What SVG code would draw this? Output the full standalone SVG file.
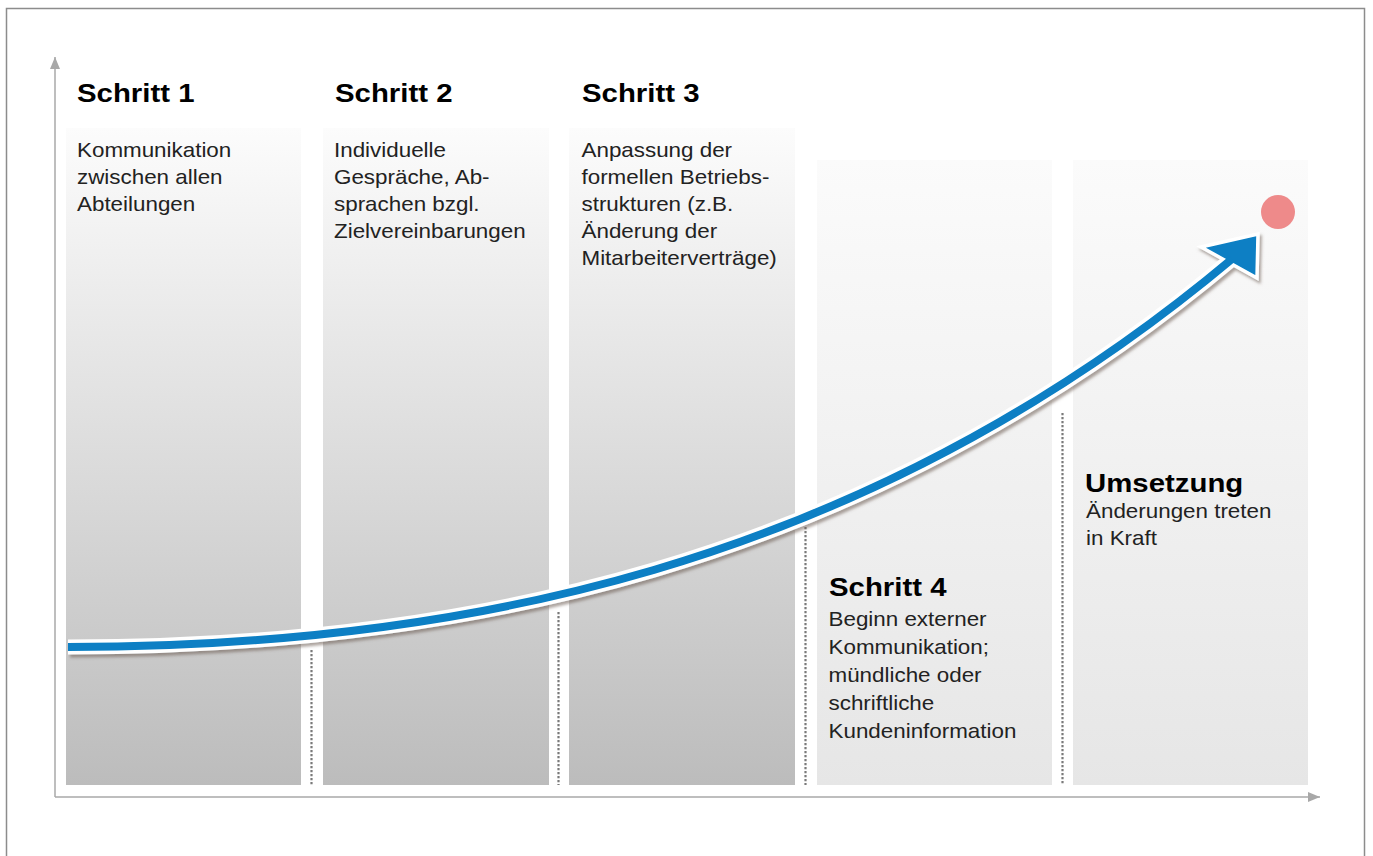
<svg xmlns="http://www.w3.org/2000/svg" width="1373" height="856" viewBox="0 0 1373 856">
<defs>
<linearGradient id="gDark" x1="0" y1="0" x2="0" y2="1"><stop offset="0" stop-color="#fcfcfc"/><stop offset="1" stop-color="#bcbcbc"/></linearGradient>
<linearGradient id="gLight" x1="0" y1="0" x2="0" y2="1"><stop offset="0" stop-color="#fbfbfb"/><stop offset="1" stop-color="#e6e6e6"/></linearGradient>
<filter id="shadow" x="-5%" y="-10%" width="115%" height="130%"><feDropShadow dx="2" dy="3" stdDeviation="1.8" flood-color="#6b5a50" flood-opacity="0.55"/></filter>
<marker id="axArrow" viewBox="0 0 12 10" refX="12" refY="5" markerWidth="12" markerHeight="10" markerUnits="userSpaceOnUse" orient="auto"><path d="M0,0 L12,5 L0,10 z" fill="#a8a8a8"/></marker>
</defs>
<style>
.title{font-family:"Liberation Sans",Arial,sans-serif;font-weight:bold;font-size:26px;fill:#000}
.body{font-family:"Liberation Sans",Arial,sans-serif;font-size:20px;fill:#222}
.dot{stroke:#7a7a7a;stroke-width:2.2;stroke-dasharray:2.2 1.8;fill:none}
.axis{stroke:#a8a8a8;stroke-width:1.5;fill:none}
.dark{fill:url(#gDark)}
.light{fill:url(#gLight)}
</style>
<rect x="0" y="0" width="1373" height="856" fill="#fff"/>
<rect x="6.5" y="8.5" width="1358" height="900" fill="none" stroke="#8c8c8c" stroke-width="1.5"/>

<g id="step1">
<rect class="dark" x="66" y="128" width="235" height="657"/>
<text class="title" transform="translate(77 102) scale(1.13 1)">Schritt 1</text>
<text class="body" transform="translate(77 157) scale(1.12 1)"><tspan x="0" y="0">Kommunikation</tspan><tspan x="0" y="27">zwischen allen</tspan><tspan x="0" y="54">Abteilungen</tspan></text>
</g>
<g id="step2">
<rect class="dark" x="323" y="128" width="226" height="657"/>
<text class="title" transform="translate(335 102) scale(1.13 1)">Schritt 2</text>
<text class="body" transform="translate(334 157) scale(1.12 1)"><tspan x="0" y="0">Individuelle</tspan><tspan x="0" y="27">Gespräche, Ab-</tspan><tspan x="0" y="54">sprachen bzgl.</tspan><tspan x="0" y="81">Zielvereinbarungen</tspan></text>
</g>
<g id="step3">
<rect class="dark" x="569" y="128" width="226" height="657"/>
<text class="title" transform="translate(582 102) scale(1.13 1)">Schritt 3</text>
<text class="body" transform="translate(581.5 157) scale(1.12 1)"><tspan x="0" y="0">Anpassung der</tspan><tspan x="0" y="27">formellen Betriebs-</tspan><tspan x="0" y="54">strukturen (z.B.</tspan><tspan x="0" y="81">Änderung der</tspan><tspan x="0" y="108">Mitarbeiterverträge)</tspan></text>
</g>
<g id="step4">
<rect class="light" x="817" y="160" width="235" height="625"/>
<text class="title" transform="translate(829 596) scale(1.13 1)">Schritt 4</text>
<text class="body" transform="translate(828.5 626) scale(1.12 1)"><tspan x="0" y="0">Beginn externer</tspan><tspan x="0" y="28">Kommunikation;</tspan><tspan x="0" y="56">mündliche oder</tspan><tspan x="0" y="84">schriftliche</tspan><tspan x="0" y="112">Kundeninformation</tspan></text>
</g>
<g id="step5">
<rect class="light" x="1073" y="160" width="235" height="625"/>
<text class="title" transform="translate(1085 492) scale(1.13 1)">Umsetzung</text>
<text class="body" transform="translate(1086 518) scale(1.12 1)"><tspan x="0" y="0">Änderungen treten</tspan><tspan x="0" y="27">in Kraft</tspan></text>
</g>

<g id="axes">
<path class="axis" d="M55,797 L55,57" marker-end="url(#axArrow)"/>
<path class="axis" d="M55,797 L1320,797" marker-end="url(#axArrow)"/>
</g>

<g id="connectors">
<path class="dot" d="M311.5,650 L311.5,785"/>
<path class="dot" d="M558.5,612 L558.5,785"/>
<path class="dot" d="M805.5,527 L805.5,785"/>
<path class="dot" d="M1062.5,413 L1062.5,785"/>
<g id="growth-arrow" filter="url(#shadow)">
<path d="M68,647 C450,647 860,571 1232,259" fill="none" stroke="#fff" stroke-width="15"/>
<polygon points="1258,234 1201,247 1257,278" fill="#0a7fc4" stroke="#fff" stroke-width="3.5" stroke-linejoin="miter"/>
<path d="M68,647 C450,647 860,571 1232,259" fill="none" stroke="#0a7fc4" stroke-width="8"/>
</g>
</g>

<g id="goal">
<circle cx="1278" cy="212" r="17" fill="#ee8a8a"/>
</g>
</svg>
